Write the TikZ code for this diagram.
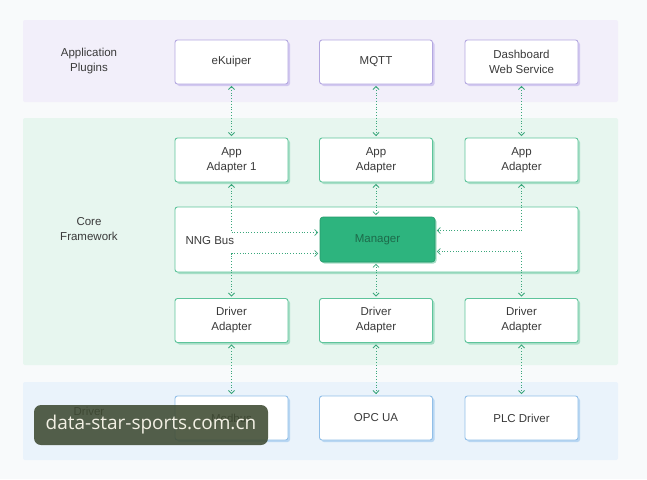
\documentclass[tikz,border=0pt]{standalone}
\usepackage{fontspec}
\setmainfont{Liberation Sans}
\newfontfamily\wmfont{Open Sans}
\usetikzlibrary{arrows.meta,shadows,positioning}
\definecolor{bgc}{HTML}{F8FAFB}
\definecolor{bandA}{HTML}{F2EFFA}
\definecolor{bandB}{HTML}{E7F6EF}
\definecolor{bandC}{HTML}{EAF3FB}
\definecolor{lineA}{HTML}{B4A8E0}
\definecolor{lineB}{HTML}{5EC49B}
\definecolor{lineC}{HTML}{92BFE8}
\definecolor{shA}{HTML}{D2C8F0}
\definecolor{shB}{HTML}{A6DEC6}
\definecolor{shC}{HTML}{B8D6F2}
\definecolor{mgrfill}{HTML}{2DB47E}
\definecolor{mgrtext}{HTML}{1D6A4A}
\definecolor{conn}{HTML}{3BA77C}
\definecolor{txt}{HTML}{3A3A3A}
\definecolor{wmbg}{HTML}{3E4A32}
\definecolor{wmtx}{HTML}{F2F0E4}
\tikzset{
  basebox/.style={rectangle, rounded corners=2.5pt, fill=white, line width=0.9pt,
    minimum width=113pt, minimum height=44pt, align=center, text=txt,
    font=\fontsize{11.5}{15}\selectfont},
  boxA/.style={basebox, draw=lineA, drop shadow={shadow xshift=2pt, shadow yshift=-2pt, fill=shA, opacity=1}},
  boxB/.style={basebox, draw=lineB, drop shadow={shadow xshift=2pt, shadow yshift=-2pt, fill=shB, opacity=1}},
  boxC/.style={basebox, draw=lineC, drop shadow={shadow xshift=2pt, shadow yshift=-2pt, fill=shC, opacity=1}},
  bandlabel/.style={align=center, text=txt, font=\fontsize{11.5}{15}\selectfont},
  link/.style={draw=conn, line width=0.8pt, dotted,
    {Straight Barb[length=3pt,width=6pt,line width=0.8pt]}-{Straight Barb[length=3pt,width=6pt,line width=0.8pt]},
    shorten <=1.5pt, shorten >=1.5pt},
}
\begin{document}
\begin{tikzpicture}[x=1pt,y=-1pt]
\fill[bgc] (0,0) rectangle (647,479);
\useasboundingbox (0,0) rectangle (647,479);
% bands
\fill[bandA, rounded corners=2pt] (23,20) rectangle (618,102);
\fill[bandB, rounded corners=2pt] (23,118) rectangle (618,365);
\fill[bandC, rounded corners=2pt] (23,382) rectangle (618,460);
% band labels
\node[bandlabel] (lA) at (89,61) {Application\\Plugins};
\node[bandlabel] (lB) at (89,229) {Core\\Framework};
\node[bandlabel] (lC) at (89,411) {Driver};
% plugins
\node[boxA] (ek) at (231.5,62) {eKuiper};
\node[boxA] (mq) at (376,62) {MQTT};
\node[boxA] (db) at (521.5,62) {Dashboard\\Web Service};
% app adapters
\node[boxB] (aa1) at (231.5,160) {App\\Adapter 1};
\node[boxB] (aa2) at (376,160) {App\\Adapter};
\node[boxB] (aa3) at (521.5,160) {App\\Adapter};
% bus
\node[boxB, minimum width=403pt, minimum height=65pt] (bus) at (376.5,239.5) {};
\node[anchor=west, text=txt, font=\fontsize{11.5}{15}\selectfont] (busl) at (182,241) {NNG Bus};
\node[rectangle, rounded corners=3pt, fill=mgrfill, draw=mgrfill!85!black, line width=0.6pt,
      minimum width=115pt, minimum height=45pt, text=mgrtext,
      font=\fontsize{11.5}{15}\selectfont,
      drop shadow={shadow xshift=1.5pt, shadow yshift=-1.5pt, fill=shB, opacity=1}] (mgr) at (377.5,239.5) {Manager};
% driver adapters
\node[boxB] (da1) at (231.5,320.5) {Driver\\Adapter};
\node[boxB] (da2) at (376,320.5) {Driver\\Adapter};
\node[boxB] (da3) at (521.5,320.5) {Driver\\Adapter};
% drivers
\node[boxC] (mb) at (231.5,418) {Modbus};
\node[boxC] (opc) at (376,418) {OPC UA};
\node[boxC] (plc) at (521.5,418) {PLC Driver};
% connectors plugins <-> app adapters
\draw[link] (ek) -- (aa1);
\draw[link] (mq) -- (aa2);
\draw[link] (db) -- (aa3);
% app adapters <-> manager
\draw[link] (aa1.south) |- ([yshift=7pt]mgr.west);
\draw[link] (aa2.south) -- (aa2.south |- mgr.north);
\draw[link] (aa3.south) |- ([yshift=9pt]mgr.east);
% manager <-> driver adapters
\draw[link] (da1.north) |- ([yshift=-14pt]mgr.west);
\draw[link] (da2.north) -- (da2.north |- mgr.south);
\draw[link] (da3.north) |- ([yshift=-12pt]mgr.east);
% driver adapters <-> drivers
\draw[link] (da1) -- (mb);
\draw[link] (da2) -- (opc);
\draw[link] (da3) -- (plc);
% watermark
\node[rectangle, rounded corners=7pt, fill=wmbg, fill opacity=0.88, text opacity=1,
      minimum width=234pt, minimum height=40pt, text=wmtx,
      font=\wmfont\fontsize{19}{22}\selectfont] (wm) at (151,425) {data-star-sports.com.cn};
\end{tikzpicture}
\end{document}
